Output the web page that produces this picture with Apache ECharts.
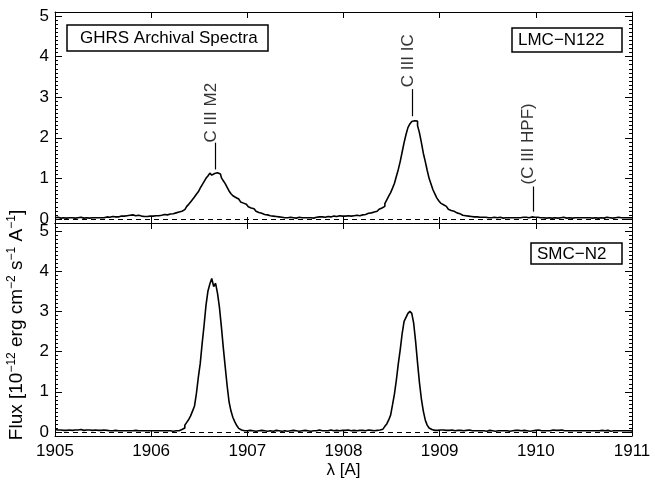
<!DOCTYPE html>
<html>
<head>
<meta charset="utf-8">
<title>GHRS Archival Spectra</title>
<script src="https://cdn.jsdelivr.net/npm/echarts@6/dist/echarts.min.js"></script>
<style>
  html, body { margin: 0; padding: 0; background: #fff; }
  #chart { width: 655px; height: 493px; }
</style>
</head>
<body>
<div id="chart"></div>
<script>
// wavelength grid shared by both spectra (Angstrom)
const wlStart = 1905.0;
const wlStep = 0.02;

// LMC-N122, flux in 1e-12 erg cm-2 s-1 A-1, one row = 0.2 A
const lmcFlux = [
  0.03, 0.04, 0.03, 0.02, 0.03, 0.03, 0.02, 0.03, 0.04, 0.03,
  0.02, 0.03, 0.03, 0.04, 0.03, 0.02, 0.03, 0.03, 0.02, 0.03,
  0.04, 0.03, 0.03, 0.02, 0.03, 0.03, 0.04, 0.05, 0.04, 0.05,
  0.06, 0.05, 0.06, 0.05, 0.07, 0.06, 0.07, 0.08, 0.07, 0.09,
  0.10, 0.09, 0.08, 0.09, 0.08, 0.07, 0.06, 0.07, 0.06, 0.07,
  0.08, 0.07, 0.08, 0.09, 0.08, 0.09, 0.10, 0.11, 0.10, 0.12,
  0.12, 0.13, 0.14, 0.15, 0.17, 0.18, 0.19, 0.23, 0.27, 0.31,
  0.36, 0.42, 0.48, 0.54, 0.61, 0.67, 0.76, 0.84, 0.92, 1.00,
  1.06, 1.13, 1.08, 1.12, 1.14, 1.10, 1.11, 1.02, 0.94, 0.87,
  0.78, 0.69, 0.62, 0.57, 0.53, 0.49, 0.45, 0.42, 0.39, 0.36,
  0.33, 0.30, 0.27, 0.25, 0.22, 0.19, 0.16, 0.14, 0.12, 0.11,
  0.10, 0.09, 0.08, 0.07, 0.07, 0.06, 0.05, 0.05, 0.04, 0.03,
  0.02, 0.03, 0.04, 0.03, 0.03, 0.02, 0.03, 0.04, 0.03, 0.02,
  0.03, 0.03, 0.04, 0.03, 0.02, 0.03, 0.04, 0.05, 0.04, 0.05,
  0.04, 0.05, 0.06, 0.05, 0.06, 0.07, 0.06, 0.07, 0.08, 0.07,
  0.06, 0.07, 0.08, 0.07, 0.07, 0.08, 0.08, 0.09, 0.08, 0.09,
  0.10, 0.11, 0.12, 0.14, 0.15, 0.16, 0.17, 0.19, 0.21, 0.24,
  0.27, 0.31, 0.38, 0.47, 0.56, 0.65, 0.76, 0.88, 1.05, 1.22,
  1.42, 1.65, 1.88, 2.08, 2.25, 2.34, 2.40, 2.42, 2.41, 2.30,
  2.12, 1.88, 1.62, 1.42, 1.20, 1.00, 0.86, 0.72, 0.62, 0.52,
  0.45, 0.39, 0.35, 0.31, 0.27, 0.24, 0.21, 0.19, 0.16, 0.15,
  0.13, 0.11, 0.09, 0.08, 0.08, 0.07, 0.06, 0.06, 0.05, 0.05,
  0.05, 0.04, 0.04, 0.05, 0.04, 0.03, 0.04, 0.03, 0.04, 0.03,
  0.03, 0.04, 0.03, 0.02, 0.03, 0.04, 0.03, 0.03, 0.02, 0.03,
  0.03, 0.04, 0.03, 0.04, 0.05, 0.04, 0.03, 0.04, 0.05, 0.04,
  0.03, 0.04, 0.03, 0.02, 0.03, 0.02, 0.03, 0.03, 0.02, 0.03,
  0.03, 0.02, 0.03, 0.03, 0.04, 0.03, 0.02, 0.03, 0.03, 0.02,
  0.03, 0.02, 0.03, 0.03, 0.02, 0.03, 0.03, 0.04, 0.03, 0.02,
  0.03, 0.03, 0.02, 0.03, 0.03, 0.02, 0.03, 0.04, 0.03, 0.03,
  0.02, 0.03, 0.03, 0.04, 0.03, 0.02, 0.03, 0.03, 0.04, 0.03,
  0.03
];

// SMC-N2
const smcFlux = [
  0.06, 0.05, 0.06, 0.05, 0.04, 0.05, 0.04, 0.05, 0.04, 0.04,
  0.05, 0.04, 0.05, 0.06, 0.05, 0.04, 0.05, 0.04, 0.05, 0.04,
  0.04, 0.05, 0.04, 0.03, 0.04, 0.05, 0.04, 0.04, 0.03, 0.04,
  0.03, 0.04, 0.04, 0.03, 0.03, 0.04, 0.03, 0.03, 0.04, 0.03,
  0.03, 0.03, 0.04, 0.03, 0.02, 0.03, 0.03, 0.02, 0.03, 0.03,
  0.02, 0.03, 0.03, 0.02, 0.03, 0.03, 0.02, 0.03, 0.03, 0.03,
  0.03, 0.02, 0.03, 0.03, 0.03, 0.04, 0.06, 0.10, 0.17, 0.24,
  0.31, 0.40, 0.52, 0.64, 0.95, 1.35, 1.70, 2.20, 2.65, 3.15,
  3.50, 3.68, 3.82, 3.62, 3.70, 3.45, 3.10, 2.62, 2.10, 1.62,
  1.15, 0.75, 0.52, 0.36, 0.25, 0.16, 0.09, 0.05, 0.03, 0.03,
  0.03, 0.04, 0.03, 0.03, 0.02, 0.03, 0.03, 0.04, 0.03, 0.03,
  0.02, 0.03, 0.03, 0.02, 0.03, 0.04, 0.03, 0.03, 0.02, 0.03,
  0.03, 0.02, 0.03, 0.03, 0.04, 0.03, 0.03, 0.02, 0.03, 0.03,
  0.04, 0.03, 0.03, 0.02, 0.03, 0.04, 0.03, 0.05, 0.04, 0.03,
  0.03, 0.04, 0.03, 0.05, 0.04, 0.03, 0.04, 0.03, 0.03, 0.04,
  0.03, 0.04, 0.05, 0.04, 0.03, 0.04, 0.04, 0.03, 0.04, 0.05,
  0.04, 0.03, 0.04, 0.05, 0.04, 0.04, 0.03, 0.04, 0.04, 0.05,
  0.07, 0.10, 0.14, 0.20, 0.30, 0.42, 0.68, 0.95, 1.30, 1.70,
  2.05, 2.45, 2.75, 2.85, 2.95, 3.00, 2.95, 2.70, 2.25, 1.72,
  1.22, 0.82, 0.52, 0.30, 0.17, 0.10, 0.06, 0.04, 0.03, 0.04,
  0.05, 0.04, 0.05, 0.04, 0.03, 0.04, 0.05, 0.04, 0.03, 0.04,
  0.03, 0.04, 0.03, 0.03, 0.04, 0.05, 0.04, 0.03, 0.03, 0.04,
  0.03, 0.03, 0.04, 0.03, 0.02, 0.03, 0.04, 0.03, 0.03, 0.02,
  0.03, 0.04, 0.03, 0.03, 0.04, 0.03, 0.02, 0.03, 0.03, 0.04,
  0.05, 0.04, 0.03, 0.03, 0.04, 0.03, 0.03, 0.02, 0.03, 0.03,
  0.04, 0.05, 0.04, 0.03, 0.03, 0.04, 0.03, 0.03, 0.04, 0.05,
  0.04, 0.03, 0.04, 0.05, 0.04, 0.03, 0.03, 0.04, 0.03, 0.03,
  0.04, 0.03, 0.03, 0.02, 0.03, 0.03, 0.04, 0.03, 0.03, 0.02,
  0.03, 0.03, 0.02, 0.03, 0.04, 0.03, 0.03, 0.04, 0.03, 0.02,
  0.03, 0.02, 0.03, 0.03, 0.02, 0.03, 0.03, 0.02, 0.03, 0.03,
  0.02
];

const xTicks = [1905, 1906, 1907, 1908, 1909, 1910, 1911];
const yTicks = [0, 1, 2, 3, 4, 5];

// line identifications marked in the LMC-N122 panel
const idNames = ['C III M2', 'C III IC', '(C III HPF)'];
const idWave = [1906.67, 1908.72, 1909.97];
const idLineLow = [1.22, 2.53, 0.18];
const idLineHigh = [1.88, 3.2, 0.8];
const idTextMid = [2.62, 3.9, 1.85];

const FONT = '"Liberation Sans", Arial, Helvetica, sans-serif';

const toPoints = flux => flux.map((f, i) => [+(wlStart + i * wlStep).toFixed(2), f]);

const myChart = echarts.init(document.getElementById('chart'));

const xAxisFor = (gridIndex, position, withLabels) => ({
  type: 'value',
  gridIndex: gridIndex,
  position: position,
  min: xTicks[0],
  max: xTicks[xTicks.length - 1],
  interval: 1,
  axisLine: { show: true, onZero: false, lineStyle: { color: '#000', width: 1 } },
  axisTick: { show: true, inside: true, length: 6, lineStyle: { color: '#000', width: 1 } },
  axisLabel: {
    show: withLabels,
    color: '#000',
    fontSize: 17,
    fontFamily: FONT,
    margin: 7,
    formatter: v => String(v)
  },
  splitLine: { show: false },
  name: withLabels ? 'λ [A]' : '',
  nameLocation: 'middle',
  nameGap: 26,
  nameTextStyle: { color: '#000', fontSize: 17, fontFamily: FONT }
});

// major ticks + labels at 0..5
const yMajorAxis = (gridIndex, position, range, withLabels) => ({
  type: 'value',
  gridIndex: gridIndex,
  position: position,
  min: range[0],
  max: range[1],
  axisLine: { show: true, onZero: false, lineStyle: { color: '#000', width: 1 } },
  axisTick: {
    show: true,
    inside: true,
    length: 7,
    customValues: yTicks,
    lineStyle: { color: '#000', width: 1 }
  },
  axisLabel: {
    show: withLabels,
    customValues: yTicks,
    color: '#000',
    fontSize: 17,
    fontFamily: FONT,
    margin: 6
  },
  splitLine: { show: false }
});

// minor ticks every 0.1
const yMinorAxis = (gridIndex, position, range) => ({
  type: 'value',
  gridIndex: gridIndex,
  position: position,
  min: range[0],
  max: range[1],
  interval: 0.1,
  axisLine: { show: false },
  axisTick: { show: true, inside: true, length: 3, lineStyle: { color: '#000', width: 1 } },
  axisLabel: { show: false },
  splitLine: { show: false }
});

const topRange = [-0.1, 5.1];
const bottomRange = [-0.1, 5.2];

const idSegments = idWave.map((w, i) => [
  { coord: [w, idLineLow[i]], lineStyle: { type: 'solid', width: 1.2, color: '#000' } },
  { coord: [w, idLineHigh[i]] }
]);

const option = {
  backgroundColor: '#fff',
  animation: false,
  grid: [
    { left: 55, right: 23, top: 12, height: 211 },
    { left: 55, right: 23, top: 223, height: 213 }
  ],
  xAxis: [
    xAxisFor(0, 'bottom', false),
    xAxisFor(0, 'top', false),
    xAxisFor(1, 'bottom', true),
    xAxisFor(1, 'top', false)
  ],
  yAxis: [
    yMajorAxis(0, 'left', topRange, true),
    yMinorAxis(0, 'left', topRange),
    yMajorAxis(0, 'right', topRange, false),
    yMinorAxis(0, 'right', topRange),
    yMajorAxis(1, 'left', bottomRange, true),
    yMinorAxis(1, 'left', bottomRange),
    yMajorAxis(1, 'right', bottomRange, false),
    yMinorAxis(1, 'right', bottomRange)
  ],
  series: [
    {
      name: 'LMC-N122',
      type: 'line',
      xAxisIndex: 0,
      yAxisIndex: 0,
      step: 'middle',
      showSymbol: false,
      symbol: 'none',
      lineStyle: { color: '#000', width: 1.6 },
      data: toPoints(lmcFlux),
      markLine: {
        silent: true,
        symbol: ['none', 'none'],
        label: { show: false },
        lineStyle: { color: '#000', type: [5, 4], width: 1.2 },
        data: [{ yAxis: 0 }].concat(idSegments)
      },
      z: 3
    },
    {
      name: 'ids',
      type: 'scatter',
      xAxisIndex: 0,
      yAxisIndex: 0,
      symbolSize: 0,
      silent: true,
      data: idNames.map((n, i) => ({ name: n, value: [idWave[i] - 0.045, idTextMid[i]] })),
      label: {
        show: true,
        position: 'inside',
        rotate: 90,
        align: 'center',
        verticalAlign: 'middle',
        formatter: p => p.name,
        color: '#000',
        fontSize: 17,
        fontFamily: FONT
      }
    },
    {
      name: 'SMC-N2',
      type: 'line',
      xAxisIndex: 2,
      yAxisIndex: 4,
      step: 'middle',
      showSymbol: false,
      symbol: 'none',
      lineStyle: { color: '#000', width: 1.6 },
      data: toPoints(smcFlux),
      markLine: {
        silent: true,
        symbol: ['none', 'none'],
        label: { show: false },
        lineStyle: { color: '#000', type: [5, 4], width: 1.2 },
        data: [{ yAxis: 0 }]
      },
      z: 3
    }
  ],
  graphic: [
    // y axis title
    {
      type: 'text',
      x: 17,
      y: 325,
      rotation: Math.PI / 2,
      style: {
        text: '{n|Flux [10}{s|\u221212}{n| erg cm}{s|\u22122}{n| s}{s|\u22121}{n| A}{s|\u22121}{n|]}',
        align: 'center',
        verticalAlign: 'middle',
        fill: '#000',
        rich: {
          n: { fontSize: 19, lineHeight: 23, fontFamily: FONT, fill: '#000' },
          s: { fontSize: 12, lineHeight: 12, verticalAlign: 'top', fontFamily: FONT, fill: '#000' }
        }
      }
    },
    // panel labels
    {
      type: 'rect',
      shape: { x: 67, y: 25, width: 201, height: 26 },
      style: { fill: 'none', stroke: '#000', lineWidth: 1.5 }
    },
    {
      type: 'text',
      x: 80, y: 38,
      style: { text: 'GHRS Archival Spectra', fill: '#000', font: '17px ' + FONT, verticalAlign: 'middle' }
    },
    {
      type: 'rect',
      shape: { x: 512, y: 28, width: 110, height: 24 },
      style: { fill: 'none', stroke: '#000', lineWidth: 1.5 }
    },
    {
      type: 'text',
      x: 518, y: 40,
      style: { text: 'LMC\u2212N122', fill: '#000', font: '17px ' + FONT, verticalAlign: 'middle' }
    },
    {
      type: 'rect',
      shape: { x: 531, y: 243, width: 91, height: 21 },
      style: { fill: 'none', stroke: '#000', lineWidth: 1.5 }
    },
    {
      type: 'text',
      x: 537, y: 254,
      style: { text: 'SMC\u2212N2', fill: '#000', font: '17px ' + FONT, verticalAlign: 'middle' }
    }
  ]
};

myChart.setOption(option);
</script>
</body>
</html>
